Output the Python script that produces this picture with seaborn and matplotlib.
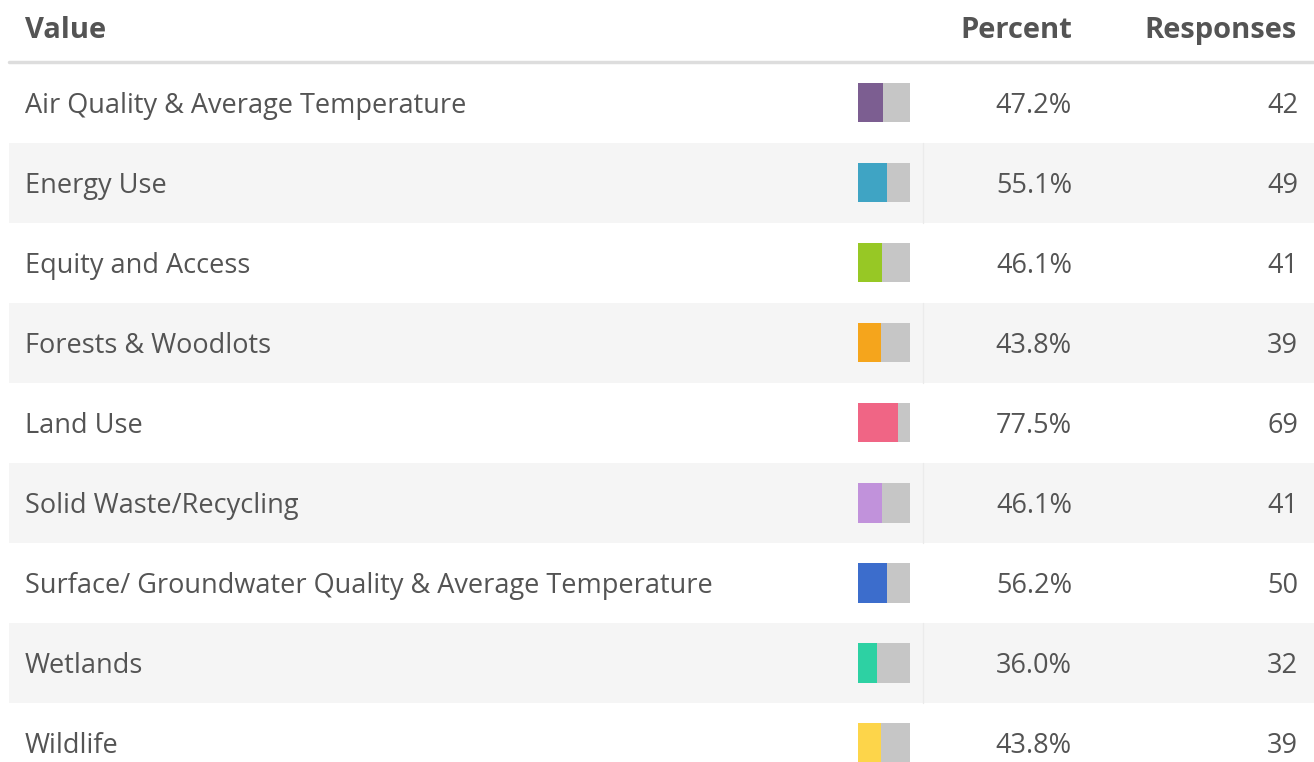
"""Survey table: share of respondents choosing each topic, with inline mini bars"""

import matplotlib
matplotlib.use('Agg')
import matplotlib.pyplot as plt
import seaborn as sns
import pandas as pd

topics = [
    'Air Quality & Average Temperature',
    'Energy Use',
    'Equity and Access',
    'Forests & Woodlots',
    'Land Use',
    'Solid Waste/Recycling',
    'Surface/ Groundwater Quality & Average Temperature',
    'Wetlands',
    'Wildlife',
]
percents = [47.2, 55.1, 46.1, 43.8, 77.5, 46.1, 56.2, 36.0, 43.8]
responses = [42, 49, 41, 39, 69, 41, 50, 32, 39]
bar_colors = ['#7c5e91', '#3fa4c4', '#97c825', '#f5a51c', '#f06585',
              '#c192db', '#3c6dcc', '#2dd1a3', '#fdd54a']
headers = ['Value', 'Percent', 'Responses']

df = pd.DataFrame({'topic': topics, 'percent': percents, 'responses': responses})
df['full'] = 100.0

W, H = 1314, 762
TEXT = '#545454'
BODY_FS = 19.5
HEAD_FS = 21

sns.set_theme(style='white')
plt.rcParams['font.family'] = ['Open Sans', 'DejaVu Sans']

fig = plt.figure(figsize=(W / 100, H / 100), dpi=100)
fig.patch.set_facecolor('white')


def row_y(px):
    # pixel row -> row-index coordinate (row i centred at i, 80 px per row)
    return (px - 103) / 80.0


ylim = (row_y(H), row_y(0))

# main table axes, x in pixels, y in rows
ax = fig.add_axes([0, 0, 1, 1])
ax.set_xlim(0, W)
ax.set_ylim(*ylim)
ax.axis('off')

for i in range(len(topics)):
    if i % 2 == 1:
        ax.fill_between([9, W], i - 0.5, i + 0.5, color='#f5f5f5', lw=0, zorder=0)
        ax.plot([923, 923], [i - 0.5, i + 0.5], color='#ebebeb', lw=1, zorder=1)

ax.plot([9, W], [row_y(62), row_y(62)], color='#dddddd', lw=2.5, zorder=2)

hdr_y = row_y(27)
ax.text(25, hdr_y, headers[0], ha='left', va='center_baseline', fontsize=HEAD_FS,
        fontweight='bold', color=TEXT)
ax.text(1072, hdr_y, headers[1], ha='right', va='center_baseline', fontsize=HEAD_FS,
        fontweight='bold', color=TEXT)
ax.text(1297, hdr_y, headers[2], ha='right', va='center_baseline', fontsize=HEAD_FS,
        fontweight='bold', color=TEXT)

for i, row in df.iterrows():
    ax.text(25, i, row['topic'], ha='left', va='center_baseline', fontsize=BODY_FS,
            color=TEXT)
    ax.text(1072, i, f"{row['percent']:.1f}%", ha='right', va='center_baseline',
            fontsize=BODY_FS, color=TEXT)
    ax.text(1298, i, f"{row['responses']}", ha='right', va='center_baseline',
            fontsize=BODY_FS, color=TEXT)

# mini bar column
bx = fig.add_axes([858 / W, 0, 52 / W, 1])
bx.patch.set_alpha(0)
sns.barplot(data=df, y='topic', x='full', color='#c6c6c6', orient='h',
            width=39 / 80, saturation=1, linewidth=0, ax=bx)
sns.barplot(data=df, y='topic', x='percent', hue='topic', palette=bar_colors,
            orient='h', width=39 / 80, saturation=1, linewidth=0, legend=False,
            ax=bx)
bx.set_xlim(0, 100)
bx.set_ylim(*ylim)
bx.axis('off')

fig.savefig('out.png', dpi=100, facecolor='white')
